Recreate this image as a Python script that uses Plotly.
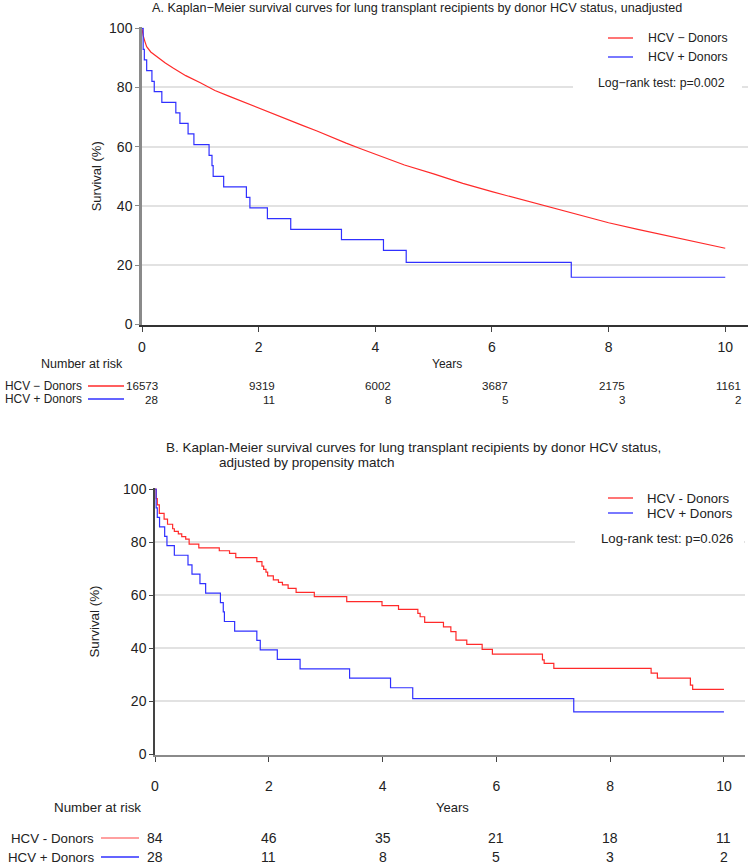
import plotly.graph_objects as go

# Panel A: unadjusted Kaplan-Meier curves
neg_a_years = [0, 0.02, 0.05, 0.08, 0.15, 0.25, 0.4, 0.54, 0.75, 1.0, 1.25, 1.5, 1.75, 2.0, 2.25, 2.5,
               2.75, 3.0, 3.25, 3.5, 3.75, 4.0, 4.5, 5.0, 5.5, 6.0, 6.5, 7.0, 7.5, 8.0, 8.5, 9.0, 9.5, 10.0]
neg_a_surv = [100, 97.5, 95.5, 93.8, 92.0, 90.4, 88.3, 86.5, 84.0, 81.6, 79.0, 77.0, 75.0, 73.0, 71.1, 69.2,
              67.2, 65.3, 63.2, 61.2, 59.3, 57.5, 53.8, 50.8, 47.6, 44.8, 42.2, 39.6, 36.9, 34.3, 32.1, 29.9, 27.8, 25.7]

# HCV+ donors (same 28 patients in both panels)
pos_years = [0, 0.02, 0.04, 0.08, 0.17, 0.21, 0.34, 0.58, 0.65, 0.79, 0.89, 1.15, 1.20, 1.22, 1.40,
             1.79, 1.85, 2.15, 2.55, 3.42, 4.14, 4.53, 7.36, 10.0]
pos_surv = [100, 92.9, 89.3, 85.7, 82.1, 78.6, 75.0, 71.4, 67.9, 64.3, 60.7, 57.1, 53.6, 50.0, 46.4,
            42.9, 39.3, 35.7, 32.1, 28.6, 25.0, 20.9, 15.9, 15.9]

# Panel B: propensity-matched HCV- donors
neg_b_years = [0, 0.02, 0.04, 0.076, 0.16, 0.22, 0.31, 0.34, 0.41, 0.47, 0.54, 0.60, 0.77, 1.13, 1.31, 1.42,
               1.79, 1.88, 1.91, 1.95, 1.98, 2.08, 2.17, 2.24, 2.34, 2.48, 2.80, 3.37, 3.99, 4.28, 4.62,
               4.66, 4.74, 5.07, 5.20, 5.29, 5.48, 5.75, 5.93, 6.81, 6.84, 7.01, 8.72, 8.83, 9.41, 9.45, 10.0]
neg_b_surv = [100, 96.4, 94.0, 90.8, 88.6, 86.7, 85.0, 84.0, 83.1, 82.0, 81.1, 79.2, 77.8, 76.7, 75.7, 74.1,
              72.6, 70.9, 69.7, 68.6, 67.2, 65.7, 64.8, 63.8, 62.5, 61.0, 59.4, 57.5, 56.0, 54.6, 53.1,
              51.8, 49.7, 48.0, 46.2, 43.0, 41.4, 39.5, 37.7, 35.5, 34.2, 32.3, 30.5, 28.6, 26.0, 24.4, 24.4]

# numbers at risk
risk_years = [0, 2, 4, 6, 8, 10]
risk_neg_a = [16573, 9319, 6002, 3687, 2175, 1161]
risk_pos_a = [28, 11, 8, 5, 3, 2]
risk_neg_b = [84, 46, 35, 21, 18, 11]
risk_pos_b = [28, 11, 8, 5, 3, 2]

W, H = 750, 866
RED = '#ff2a2a'
BLUE = '#3030ff'
FONT = 'Liberation Sans, Arial, sans-serif'


def px(x):
    return x / W


def py(y):
    return 1 - y / H


fig = go.Figure()

fig.add_trace(go.Scatter(x=neg_a_years, y=neg_a_surv, mode='lines', name='HCV − Donors',
                         line=dict(color=RED, width=1.2), xaxis='x', yaxis='y'))
fig.add_trace(go.Scatter(x=pos_years, y=pos_surv, mode='lines', name='HCV + Donors',
                         line=dict(color=BLUE, width=1.2, shape='hv'), xaxis='x', yaxis='y'))
fig.add_trace(go.Scatter(x=neg_b_years, y=neg_b_surv, mode='lines', name='HCV - Donors',
                         line=dict(color=RED, width=1.2, shape='hv'), xaxis='x2', yaxis='y2'))
fig.add_trace(go.Scatter(x=pos_years, y=pos_surv, mode='lines', name='HCV + Donors',
                         line=dict(color=BLUE, width=1.2, shape='hv'), xaxis='x2', yaxis='y2'))

common_x = dict(tickvals=risk_years, ticks='outside', ticklen=5, tickcolor='#444', automargin=False,
                showgrid=False, zeroline=False, showline=True, linewidth=1.5,
                tickfont=dict(size=14, color='#222'))
common_y = dict(tickvals=[0, 20, 40, 60, 80, 100], ticks='outside', ticklen=4, automargin=False,
                showgrid=True, gridcolor='#e2e2e2', gridwidth=1.5, zeroline=False, showline=True,
                range=[-0.3, 100.3], tickfont=dict(size=14, color='#222'))

fig.update_layout(
    width=W, height=H, margin=dict(l=0, r=0, t=0, b=0, pad=0, autoexpand=False),
    paper_bgcolor='white', plot_bgcolor='white', showlegend=False,
    font=dict(family=FONT, color='#222'),
    xaxis=dict(domain=[px(142), px(748)], range=[0, 10.39], anchor='y',
               linecolor='#333', ticklabelstandoff=3, **common_x),
    yaxis=dict(domain=[py(325.2), py(27.4)], anchor='x', linecolor='#8a8a8a', linewidth=2.5,
               tickcolor='#8a8a8a',
               title=dict(text='Survival (%)', font=dict(size=13, color='#222'), standoff=5),
               **common_y),
    xaxis2=dict(domain=[px(155), px(745)], range=[0, 10.37], anchor='y2',
                linecolor='#8a8a8a', ticklabelstandoff=13, **common_x),
    yaxis2=dict(domain=[py(754.8), py(488.2)], anchor='x2', linecolor='#444', linewidth=1.5,
                tickcolor='#444',
                title=dict(text='Survival (%)', font=dict(size=13.4, color='#222'), standoff=20),
                **common_y),
)

ann = []
shapes = []


def text(x, y, s, size=13, anchor='left', **kw):
    ann.append(dict(x=px(x), y=py(y), xref='paper', yref='paper', text=s, showarrow=False,
                    xanchor=anchor, yanchor='middle', font=dict(size=size, color='#222'), **kw))


def seg(x0, x1, y, color):
    shapes.append(dict(type='line', xref='paper', yref='paper', x0=px(x0), x1=px(x1),
                       y0=py(y), y1=py(y), line=dict(color=color, width=1.3)))


def white(x0, x1, y0, y1):
    shapes.append(dict(type='rect', xref='paper', yref='paper', x0=px(x0), x1=px(x1),
                       y0=py(y1), y1=py(y0), fillcolor='white', line=dict(width=0), layer='above'))


# titles
text(150, 8, 'A. Kaplan−Meier survival curves for lung transplant recipients by donor HCV status, unadjusted', 12.6)
text(164, 447, 'B. Kaplan-Meier survival curves for lung transplant recipients by donor HCV status,', 13.5)
text(217, 463, 'adjusted by propensity match', 13.5)

# in-plot legends
white(595, 742, 26, 72)
white(573, 742, 72, 96)
seg(608, 633, 38, RED)
seg(608, 633, 57, BLUE)
text(646, 38, 'HCV − Donors', 12.3)
text(646, 57, 'HCV + Donors', 12.3)
text(727, 83, 'Log−rank test: p=0.002', 12.3, 'right')

white(595, 742, 487, 528)
white(575, 744, 528, 550)
seg(608, 633, 498, RED)
seg(608, 633, 513, BLUE)
text(645, 498, 'HCV - Donors', 13.2)
text(645, 513, 'HCV + Donors', 13.2)
text(735, 538, 'Log-rank test: p=0.026', 13.2, 'right')

# axis titles and risk tables
text(447, 364, 'Years', 12, 'center')
text(82, 364, 'Number at risk', 12.5, 'center')
text(84, 385.5, 'HCV − Donors', 11.9, 'right')
text(84, 399.5, 'HCV + Donors', 11.9, 'right')
seg(88, 124, 386, RED)
seg(88, 124, 399, BLUE)
for t, a, b in zip(risk_years, risk_neg_a, risk_pos_a):
    ann.append(dict(x=t, y=py(385.5), xref='x', yref='paper', text=str(a), showarrow=False,
                    xanchor='right', yanchor='middle', xshift=18, font=dict(size=11.6, color='#222')))
    ann.append(dict(x=t, y=py(399.5), xref='x', yref='paper', text=str(b), showarrow=False,
                    xanchor='right', yanchor='middle', xshift=18, font=dict(size=11.6, color='#222')))

text(452, 807, 'Years', 13, 'center')
text(97, 807, 'Number at risk', 13.4, 'center')
text(96, 838, 'HCV - Donors', 13.3, 'right')
text(96, 857, 'HCV + Donors', 13.3, 'right')
seg(101, 139, 838, '#ff8080')
seg(101, 139, 857, BLUE)
for t, a, b in zip(risk_years, risk_neg_b, risk_pos_b):
    ann.append(dict(x=t, y=py(838), xref='x2', yref='paper', text=str(a), showarrow=False,
                    xanchor='center', yanchor='middle', font=dict(size=14, color='#222')))
    ann.append(dict(x=t, y=py(857), xref='x2', yref='paper', text=str(b), showarrow=False,
                    xanchor='center', yanchor='middle', font=dict(size=14, color='#222')))

fig.update_layout(annotations=ann, shapes=shapes)

fig.write_html("out.html", config={'displayModeBar': False},
               post_script="document.body.style.margin='0';")
